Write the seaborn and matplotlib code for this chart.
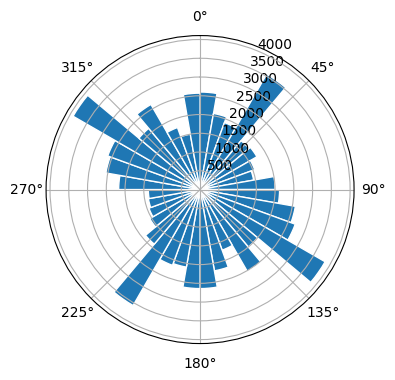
import numpy as np
import seaborn as sns
import matplotlib
matplotlib.use('Agg')
import matplotlib.pyplot as plt

# direction bins, 10 degrees each (centres)
directions = list(range(5, 360, 10))
# counts per bin
counts = [2600, 2060, 1900, 3550, 1700, 1750, 1550, 1450, 2000,
          2120, 2580, 2700, 3850, 2000, 2520, 1720, 2200, 2640,
          2640, 2100, 2150, 3570, 1900, 1550, 1450, 1400, 1380,
          2170, 2550, 2620, 3910, 2130, 2620, 1760, 1500, 2570]

color = sns.color_palette()[0]

fig = plt.figure(figsize=(4, 4), dpi=100)
ax = fig.add_subplot(projection='polar')
ax.set_theta_zero_location('N')
ax.set_theta_direction(-1)

theta = np.deg2rad(directions)
ax.bar(theta, counts, width=np.deg2rad(10), color=color, edgecolor='white')

fig.savefig('out.png', dpi=100, bbox_inches='tight')
